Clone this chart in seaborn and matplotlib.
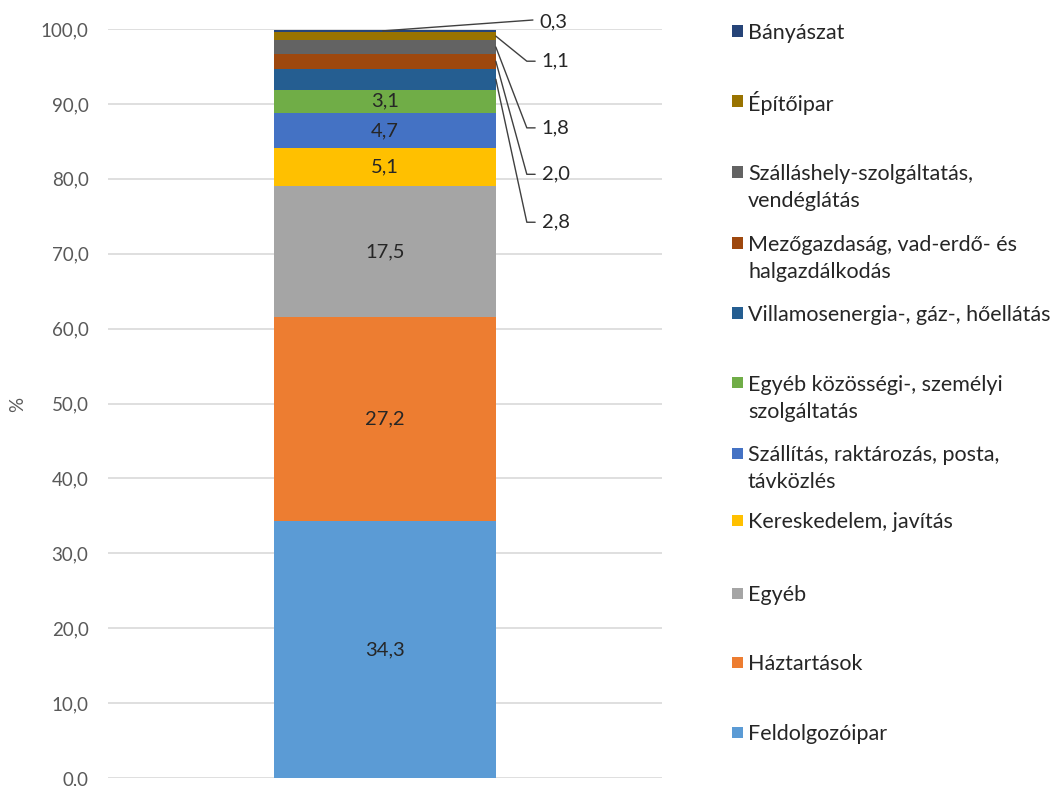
import matplotlib
matplotlib.use("Agg")
import matplotlib.pyplot as plt
import matplotlib.patches as mpatches
import seaborn as sns
import numpy as np

# Sector shares (%), stacked from the bottom up
categories = [
    "Feldolgozóipar",
    "Háztartások",
    "Egyéb",
    "Kereskedelem, javítás",
    "Szállítás, raktározás, posta,\ntávközlés",
    "Egyéb közösségi-, személyi\nszolgáltatás",
    "Villamosenergia-, gáz-, hőellátás",
    "Mezőgazdaság, vad-erdő- és\nhalgazdálkodás",
    "Szálláshely-szolgáltatás,\nvendéglátás",
    "Építőipar",
    "Bányászat",
]
values = [34.3, 27.2, 17.5, 5.1, 4.7, 3.1, 2.8, 2.0, 1.8, 1.1, 0.3]
colors = ["#5B9BD5", "#ED7D31", "#A5A5A5", "#FFC000", "#4472C4", "#70AD47",
          "#255E91", "#9E480E", "#636363", "#997300", "#264478"]
yticks = [0, 10, 20, 30, 40, 50, 60, 70, 80, 90, 100]

sns.set_theme(style="white")
plt.rcParams["font.family"] = ["Lato", "DejaVu Sans"]

W, H = 1056, 786
fig = plt.figure(figsize=(W / 100, H / 100), dpi=100)
ax = fig.add_axes([108 / W, 1 - 778 / H, (662 - 108) / W, (778 - 29) / H])

bottoms = np.concatenate([[0], np.cumsum(values)[:-1]])
for val, base, col in zip(values, bottoms, colors):
    sns.barplot(x=[""], y=[val], bottom=base, color=col, width=0.4,
                saturation=1, ax=ax, zorder=3, linewidth=0)

ax.set_ylim(0, 100)
ax.set_xlim(-0.5, 0.5)
ax.set_yticks(yticks)
ax.set_yticklabels([f"{t:.1f}".replace(".", ",") for t in yticks])
ax.yaxis.grid(True, color="#D9D9D9", linewidth=1.2, zorder=0)
ax.set_axisbelow(True)
ax.tick_params(axis="y", length=0, pad=14, labelsize=13.5, labelcolor="#595959")
ax.tick_params(axis="x", length=0, labelbottom=False)
ax.set_xlabel("")
ax.set_ylabel("")
for s in ax.spines.values():
    s.set_visible(False)

fig.text(18 / W, 1 - 404 / H, "%", rotation=90, ha="center", va="center",
         fontsize=13.5, color="#595959")

fmt = lambda v: f"{v:.1f}".replace(".", ",")

# Values written inside the larger segments
for val, base in zip(values[:6], bottoms[:6]):
    ax.text(0, base + val / 2, fmt(val), ha="center", va="center",
            fontsize=14.5, color="#262626", zorder=5)

# Leader-line callouts for the thin segments at the top
line_col = "#404040"
callout_y = {6: 74.2, 7: 80.6, 8: 86.8, 9: 95.7}
for i, ly in callout_y.items():
    mid = bottoms[i] + values[i] / 2
    ax.plot([0.2, 0.256, 0.271], [mid, ly, ly], color=line_col, lw=1,
            clip_on=False, zorder=6)
    ax.text(0.283, ly, fmt(values[i]), ha="left", va="center",
            fontsize=14.5, color="#262626", clip_on=False)
top_mid = bottoms[10] + values[10] / 2
ax.plot([-0.004, 0.267], [top_mid, 101.2], color=line_col, lw=1,
        clip_on=False, zorder=6)
ax.text(0.279, 101.0, fmt(values[10]), ha="left", va="center",
        fontsize=14.5, color="#262626", clip_on=False)

# Legend, top entry first
legend_y = [732, 662, 593, 520, 453, 383, 313, 243, 172, 101, 31]
for name, col, yc in zip(categories, colors, legend_y):
    fig.patches.append(mpatches.Rectangle(
        ((732) / W, 1 - (yc + 5.5) / H), 11 / W, 11 / H,
        transform=fig.transFigure, facecolor=col, edgecolor="none"))
    for k, line in enumerate(name.split("\n")):
        fig.text(748 / W, 1 - (yc + 27 * k) / H, line, ha="left",
                 va="center_baseline", fontsize=15.5, color="#262626")

fig.savefig("out.png", dpi=100)
